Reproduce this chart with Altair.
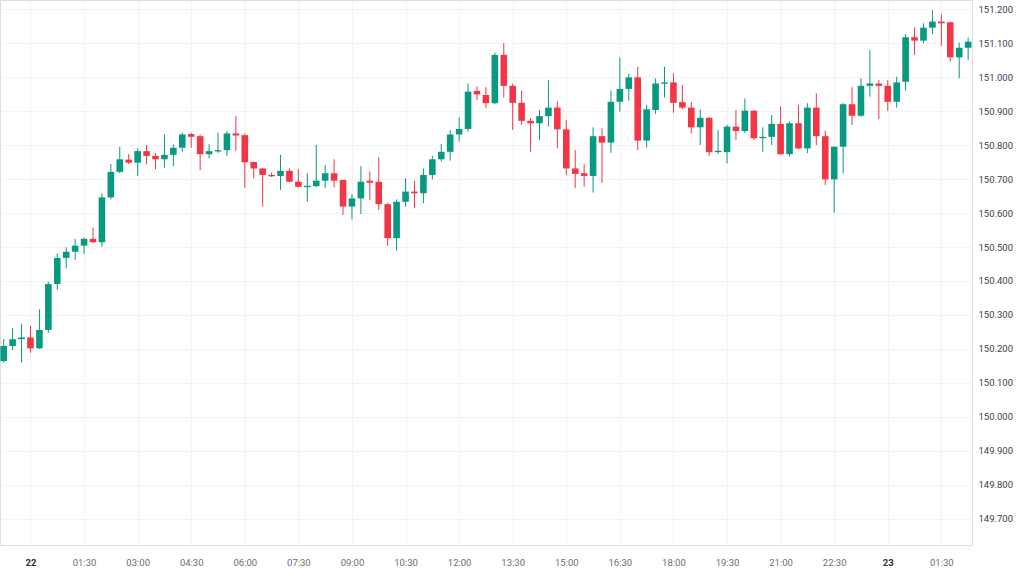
import altair as alt
import pandas as pd

# 15-minute candles, from 21st 23:15 to 23rd 02:15 (UTC)
start = "2024-03-21T23:15:00Z"
n_candles = 109

opens = [150.165,150.209,150.229,150.234,150.202,150.256,150.391,150.468,150.486,150.504,
         150.524,150.514,150.646,150.721,150.757,150.748,150.782,150.768,150.758,150.771,
         150.792,150.832,150.826,150.773,150.781,150.785,150.834,150.829,150.750,150.731,
         150.712,150.709,150.724,150.692,150.676,150.679,150.695,150.717,150.697,150.619,
         150.643,150.695,150.692,150.626,150.526,150.633,150.663,150.658,150.712,150.758,
         150.780,150.831,150.847,150.959,150.947,150.923,151.065,150.974,150.924,150.871,
         150.864,150.885,150.910,150.846,150.731,150.717,150.709,150.826,150.807,150.927,
         150.965,150.999,150.813,150.903,150.980,150.984,150.926,150.910,150.852,150.880,
         150.779,150.779,150.854,150.841,150.901,150.820,150.824,150.862,150.773,150.864,
         150.790,150.910,150.826,150.699,150.795,150.920,150.886,150.974,150.981,150.974,
         150.927,150.986,151.117,151.107,151.145,151.163,151.161,151.058,151.086]
highs = [150.229,150.262,150.274,150.268,150.317,150.398,150.481,150.499,150.524,150.527,
         150.557,150.658,150.744,150.795,150.774,150.790,150.800,150.777,150.831,150.802,
         150.836,150.836,150.831,150.802,150.836,150.841,150.885,150.834,150.751,150.732,
         150.719,150.771,150.731,150.729,150.717,150.800,150.741,150.758,150.698,150.656,
         150.738,150.722,150.764,150.630,150.640,150.702,150.695,150.731,150.768,150.803,
         150.844,150.881,150.981,150.972,150.970,151.071,151.100,150.981,150.960,150.879,
         150.903,150.991,150.929,150.874,150.785,150.743,150.852,150.849,150.960,151.058,
         151.009,151.030,150.918,150.996,151.030,151.011,150.976,150.927,150.905,150.881,
         150.844,150.859,150.903,150.937,150.903,150.852,150.888,150.913,150.869,150.918,
         150.923,150.952,150.842,150.796,150.924,150.970,150.996,151.079,150.991,150.991,
         151.001,151.126,151.146,151.158,151.197,151.185,151.162,151.101,151.116]
lows = [150.160,150.197,150.160,150.189,150.200,150.248,150.374,150.437,150.462,150.479,
        150.511,150.501,150.640,150.717,150.744,150.709,150.743,150.729,150.733,150.738,
        150.780,150.792,150.726,150.761,150.777,150.768,150.782,150.674,150.702,150.619,
        150.706,150.668,150.690,150.675,150.633,150.677,150.673,150.676,150.594,150.581,
        150.597,150.638,150.609,150.503,150.489,150.619,150.614,150.629,150.699,150.751,
        150.754,150.810,150.839,150.932,150.908,150.920,150.940,150.844,150.859,150.780,
        150.815,150.854,150.790,150.712,150.673,150.677,150.660,150.689,150.777,150.898,
        150.930,150.785,150.793,150.891,150.940,150.895,150.905,150.834,150.800,150.768,
        150.774,150.746,150.815,150.835,150.815,150.780,150.800,150.771,150.766,150.788,
        150.776,150.800,150.682,150.601,150.717,150.859,150.883,150.942,150.876,150.900,
        150.910,150.960,151.065,151.099,151.126,151.091,151.045,150.996,151.050]
closes = [150.209,150.229,150.234,150.202,150.256,150.391,150.468,150.486,150.504,150.524,
          150.514,150.646,150.721,150.758,150.748,150.782,150.768,150.758,150.771,150.792,
          150.831,150.824,150.773,150.782,150.785,150.834,150.828,150.749,150.731,150.712,
          150.708,150.724,150.692,150.677,150.680,150.695,150.717,150.695,150.619,150.643,
          150.692,150.689,150.626,150.526,150.633,150.663,150.658,150.712,150.758,150.780,
          150.831,150.847,150.957,150.949,150.923,151.065,150.974,150.924,150.871,150.864,
          150.885,150.910,150.846,150.731,150.715,150.709,150.826,150.807,150.927,150.965,
          150.999,150.813,150.905,150.981,150.984,150.924,150.910,150.852,150.880,150.779,
          150.783,150.854,150.841,150.901,150.820,150.824,150.862,150.773,150.864,150.790,
          150.910,150.826,150.699,150.795,150.920,150.886,150.974,150.981,150.974,150.927,
          150.984,151.117,151.107,151.145,151.163,151.158,151.058,151.086,151.104]

price_ticks = [149.7, 149.8, 149.9, 150.0, 150.1, 150.2, 150.3, 150.4, 150.5, 150.6,
               150.7, 150.8, 150.9, 151.0, 151.1, 151.2]

times = pd.date_range(start, periods=n_candles, freq="15min")
df = pd.DataFrame({"time": times, "open": opens, "high": highs, "low": lows, "close": closes})
df["dir"] = ["up" if c >= o else "down" for o, c in zip(opens, closes)]

ms = lambda s: int(pd.Timestamp(s).value // 10**6)
day0 = pd.Timestamp("2024-03-22T00:00:00Z")
tick_vals = [int((day0 + pd.Timedelta(minutes=90 * i)).value // 10**6) for i in range(18)]
x_domain = [ms("2024-03-21T23:08:48Z"), ms("2024-03-23T02:21:30Z")]

is_day = "utcFormat(datum.value, '%H:%M') == '00:00'"
x_enc = alt.X("time:T", scale=alt.Scale(type="utc", domain=x_domain, nice=False, padding=0),
              axis=alt.Axis(values=tick_vals, title=None, grid=True, gridColor="#f2f3f5",
                            domain=False, ticks=False, labelPadding=12, labelFontSize=9.5,
                            labelColor={"condition": {"test": is_day, "value": "#2a2e39"}, "value": "#6a6d78"},
                            labelFontWeight={"condition": {"test": is_day, "value": "bold"}, "value": "normal"},
                            labelExpr=is_day + " ? utcFormat(datum.value, '%-d') : utcFormat(datum.value, '%H:%M')",
                            labelFont="Roboto"))
y_scale = alt.Scale(domain=[149.6235, 151.2265], nice=False, zero=False, padding=0)
y_axis = alt.Axis(orient="right", values=price_ticks, format=".3f", title=None, grid=True,
                  gridColor="#f2f3f5", domain=False, ticks=False, labelPadding=6,
                  labelFontSize=9.5, labelColor="#3b3f4a", labelFont="Roboto")
color = alt.Color("dir:N", scale=alt.Scale(domain=["up", "down"], range=["#089981", "#f23645"]), legend=None)

base = alt.Chart(df)
wicks = base.mark_rule(strokeWidth=1, clip=True).encode(
    x=x_enc, y=alt.Y("low:Q", scale=y_scale, axis=y_axis), y2="high:Q", color=color)
bodies = base.mark_bar(size=6.6, clip=True).encode(
    x=x_enc, y=alt.Y("open:Q", scale=y_scale, axis=y_axis), y2="close:Q", color=color)

chart = (wicks + bodies).properties(
    width=972, height=545,
    autosize=alt.AutoSizeParams(type="none"),
    padding={"left": 0, "top": 0, "right": 52, "bottom": 31},
).configure_view(strokeWidth=0, strokeOpacity=0).configure(background="white")

chart.save("out.html", embed_options={"renderer": "svg", "actions": False})
